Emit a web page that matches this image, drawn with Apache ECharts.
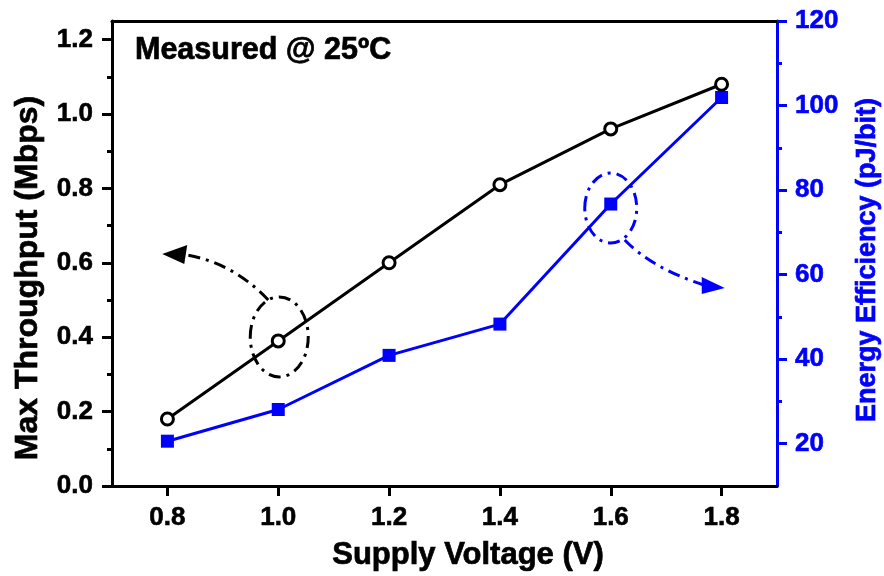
<!DOCTYPE html>
<html><head><meta charset="utf-8">
<script src="https://cdn.jsdelivr.net/npm/echarts@6/dist/echarts.min.js"></script>
<style>html,body{margin:0;padding:0;background:#fff}#c{width:884px;height:576px}</style>
</head><body><div id="c"></div>
<script>
const voltages = [0.8, 1.0, 1.2, 1.4, 1.6, 1.8];
const throughput = [0.18, 0.39, 0.60, 0.81, 0.96, 1.08];
const efficiency = [20.6, 28.1, 40.9, 48.3, 76.7, 101.9];
const xTicks = [0.8, 1.0, 1.2, 1.4, 1.6, 1.8];
const leftTicks = [0, 0.2, 0.4, 0.6, 0.8, 1.0, 1.2];
const leftMinor = [0.1, 0.3, 0.5, 0.7, 0.9, 1.1];
const rightTicks = [20, 40, 60, 80, 100, 120];
const rightMinor = [30, 50, 70, 90, 110];
const titleText = 'Measured @ 25\u00BAC';
const xTitle = 'Supply Voltage (V)';
const yLeftTitle = 'Max Throughput (Mbps)';
const yRightTitle = 'Energy Efficiency (pJ/bit)';

const FONT = "'Liberation Sans', Arial, sans-serif";
const BLUE = '#0000FF';
const chart = echarts.init(document.getElementById('c'), null, {renderer: 'canvas'});

function pair(a, b) { return a.map((v, i) => [v, b[i]]); }

const lbl = (color, extra) => Object.assign({
  color: color, fontFamily: FONT, fontWeight: 'bold', fontSize: 26,
  textBorderColor: color, textBorderWidth: 0.6
}, extra);

const option = {
  animation: false,
  backgroundColor: '#fff',
  grid: {left: 112, right: 107, top: 21, bottom: 90, containLabel: false},
  xAxis: [
    {
      type: 'value', min: 0.7, max: 1.9, position: 'bottom',
      axisLine: {lineStyle: {color: '#000', width: 3}},
      axisTick: {customValues: xTicks, length: 10, lineStyle: {color: '#000', width: 3}},
      axisLabel: lbl('#000', {customValues: xTicks, margin: 19, formatter: v => v.toFixed(1)}),
      splitLine: {show: false}
    },
    {
      type: 'value', min: 0.7, max: 1.9, position: 'top',
      axisLine: {onZero: false, lineStyle: {color: '#000', width: 3}},
      axisTick: {show: false}, axisLabel: {show: false}, splitLine: {show: false}
    }
  ],
  yAxis: [
    {
      type: 'value', min: 0, max: 1.25, position: 'left',
      axisLine: {show: true, onZero: false, lineStyle: {color: '#000', width: 3}},
      axisTick: {customValues: leftTicks, length: 10, lineStyle: {color: '#000', width: 3}},
      axisLabel: lbl('#000', {customValues: leftTicks, margin: 19, formatter: v => v.toFixed(1)}),
      splitLine: {show: false}
    },
    {
      type: 'value', min: 10, max: 120, position: 'right',
      axisLine: {show: true, onZero: false, lineStyle: {color: BLUE, width: 3}},
      axisTick: {customValues: rightTicks, length: 10, lineStyle: {color: BLUE, width: 3}},
      axisLabel: lbl(BLUE, {customValues: rightTicks, margin: 18}),
      splitLine: {show: false}
    },
    {
      type: 'value', min: 0, max: 1.25, position: 'left',
      axisLine: {show: false},
      axisTick: {customValues: leftMinor, length: 5, lineStyle: {color: '#000', width: 3}},
      axisLabel: {show: false}, splitLine: {show: false}
    },
    {
      type: 'value', min: 10, max: 120, position: 'right',
      axisLine: {show: false},
      axisTick: {customValues: rightMinor, length: 5, lineStyle: {color: BLUE, width: 3}},
      axisLabel: {show: false}, splitLine: {show: false}
    }
  ],
  series: [
    {
      type: 'line', xAxisIndex: 0, yAxisIndex: 1, data: pair(voltages, efficiency),
      symbol: 'rect', symbolSize: 13,
      lineStyle: {color: BLUE, width: 3},
      itemStyle: {color: BLUE, borderWidth: 0}, z: 3
    },
    {
      type: 'line', xAxisIndex: 0, yAxisIndex: 0, data: pair(voltages, throughput),
      symbol: 'circle', symbolSize: 12, showAllSymbol: true,
      lineStyle: {color: '#000', width: 3},
      itemStyle: {color: '#fff', borderColor: '#000', borderWidth: 3}, z: 4
    }
  ]
};
chart.setOption(option);

const p1 = chart.convertToPixel({xAxisIndex: 0, yAxisIndex: 0}, [voltages[1], throughput[1]]);
const p2 = chart.convertToPixel({xAxisIndex: 0, yAxisIndex: 1}, [voltages[4], efficiency[4]]);
const dash = [12, 6, 3, 6];

function txt(x, y, text, size, color, rot, align) {
  return {
    type: 'text', x: x, y: y, rotation: rot || 0, z: 10,
    style: {text: text, fill: color, font: 'bold ' + size + 'px ' + FONT,
      stroke: color, lineWidth: 0.7,
      textAlign: align || 'center', textVerticalAlign: 'middle'}
  };
}

chart.setOption({
  graphic: [
    txt(135, 51, titleText, 30.5, '#000', 0, 'left'),
    txt(468, 555, xTitle, 31, '#000', 0),
    txt(28, 278, yLeftTitle, 32, '#000', Math.PI / 2),
    txt(868, 260, yRightTitle, 27, BLUE, Math.PI / 2),
    {type: 'ellipse', z: 5, shape: {cx: p1[0] + 1, cy: p1[1] - 4, rx: 29, ry: 40},
      style: {fill: 'none', stroke: '#000', lineWidth: 3, lineDash: dash}},
    {type: 'bezierCurve', z: 5, shape: {x1: p1[0] - 10, y1: p1[1] - 41, cpx1: p1[0] - 45, cpy1: p1[1] - 78, x2: p1[0] - 92, y2: p1[1] - 86},
      style: {fill: 'none', stroke: '#000', lineWidth: 3, lineDash: dash}},
    {type: 'polygon', z: 5, shape: {points: [[p1[0] - 116, p1[1] - 87], [p1[0] - 91, p1[1] - 96], [p1[0] - 94, p1[1] - 77]]},
      style: {fill: '#000'}},
    {type: 'ellipse', z: 5, shape: {cx: p2[0], cy: p2[1] + 4, rx: 26, ry: 35},
      style: {fill: 'none', stroke: BLUE, lineWidth: 3, lineDash: dash}},
    {type: 'bezierCurve', z: 5, shape: {x1: p2[0] + 14, y1: p2[1] + 36, cpx1: p2[0] + 41, cpy1: p2[1] + 64, x2: p2[0] + 93, y2: p2[1] + 81},
      style: {fill: 'none', stroke: BLUE, lineWidth: 3, lineDash: dash}},
    {type: 'polygon', z: 5, shape: {points: [[p2[0] + 114, p2[1] + 84], [p2[0] + 91, p2[1] + 73], [p2[0] + 91, p2[1] + 90]]},
      style: {fill: BLUE}}
  ]
});
</script>
</body></html>
